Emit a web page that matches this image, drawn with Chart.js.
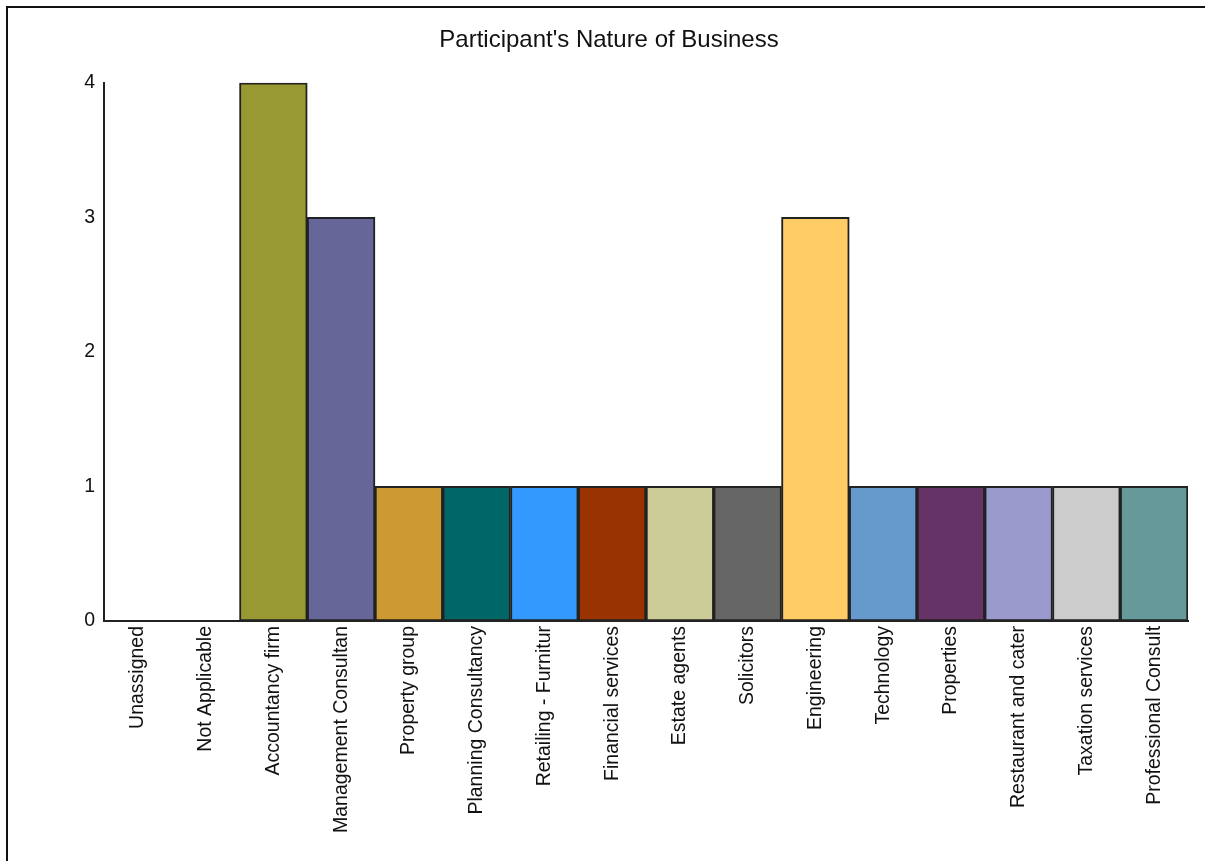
<!DOCTYPE html>
<html>
<head>
<meta charset="utf-8">
<script src="https://cdn.jsdelivr.net/npm/chart.js@4/dist/chart.umd.min.js"></script>
<style>
  html, body { margin: 0; padding: 0; background: #fff; overflow: hidden; }
  .frame {
    position: absolute; left: 6px; top: 6px; width: 1300px; height: 900px;
    border-left: 2px solid #111; border-top: 2px solid #111;
  }
  .wrap { position: absolute; left: 0; top: 0; width: 1205px; height: 861px; }
</style>
</head>
<body>
<div class="frame"></div>
<div class="wrap"><canvas id="chart"></canvas></div>
<script>
const categories = [
  'Unassigned', 'Not Applicable', 'Accountancy firm', 'Management Consultan',
  'Property group', 'Planning Consultancy', 'Retailing - Furnitur', 'Financial services',
  'Estate agents', 'Solicitors', 'Engineering', 'Technology', 'Properties',
  'Restaurant and cater', 'Taxation services', 'Professional Consult'
];
const counts = [0, 0, 4, 3, 1, 1, 1, 1, 1, 1, 3, 1, 1, 1, 1, 1];
const barColors = [
  '#ffffff', '#ffffff', '#999933', '#666699', '#cc9933', '#006666', '#3399ff', '#993300',
  '#cccc99', '#666666', '#ffcc66', '#6699cc', '#663366', '#9999cc', '#cccccc', '#669999'
];
const yTicks = [0, 1, 2, 3, 4];

const font = 'Liberation Sans, Arial, sans-serif';
const ctx = document.getElementById('chart').getContext('2d');

new Chart(ctx, {
  type: 'bar',
  data: {
    labels: categories,
    datasets: [{
      data: counts,
      backgroundColor: barColors,
      borderColor: '#222',
      borderWidth: 2,
      borderSkipped: false,
      barPercentage: 1,
      categoryPercentage: 1
    }]
  },
  options: {
    responsive: true,
    maintainAspectRatio: false,
    animation: false,
    layout: { padding: { left: 30, right: 17, top: 0, bottom: 23 } },
    plugins: {
      legend: { display: false },
      tooltip: { enabled: false },
      title: {
        display: true,
        text: "Participant's Nature of Business",
        color: '#111',
        font: { family: font, size: 24, weight: 'normal' },
        padding: { top: 26, bottom: 28 }
      }
    },
    scales: {
      x: {
        grid: { display: false, drawTicks: false },
        border: { display: true, color: '#222', width: 2 },
        ticks: {
          color: '#111',
          font: { family: font, size: 19.5 },
          minRotation: 90,
          maxRotation: 90,
          padding: 5,
          autoSkip: false
        }
      },
      y: {
        min: 0,
        max: 4,
        grid: { display: false, drawTicks: false },
        border: { display: true, color: '#222', width: 2 },
        afterBuildTicks: scale => { scale.ticks = yTicks.map(v => ({ value: v })); },
        // fixed axis width so the title stays centred on the page
        afterFit: scale => { scale.width = 74; },
        ticks: {
          color: '#111',
          font: { family: font, size: 19.5 },
          padding: 9
        }
      }
    }
  }
});
</script>
</body>
</html>
